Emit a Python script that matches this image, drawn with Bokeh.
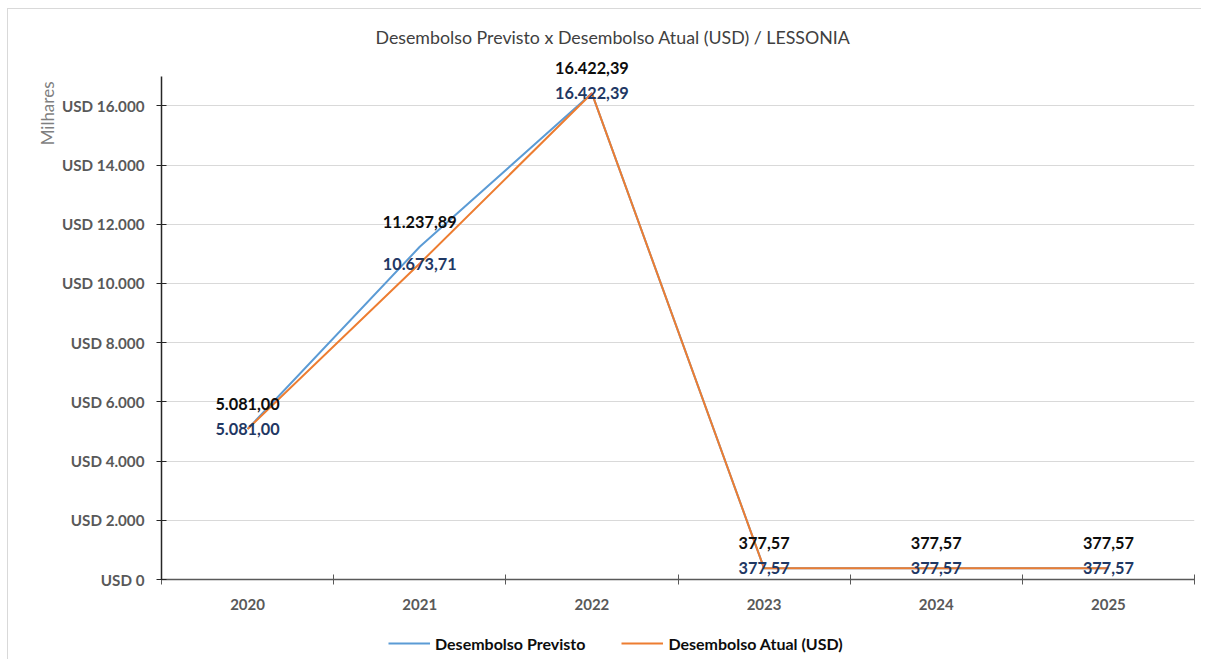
from bokeh.plotting import figure
from bokeh.layouts import column
from bokeh.models import (FixedTicker, ColumnDataSource, LabelSet, Legend,
                          LegendItem, Range1d, Title)
from bokeh.core.properties import value
from bokeh.embed import file_html
from bokeh.resources import INLINE

# ---- data ----
years = ["2020", "2021", "2022", "2023", "2024", "2025"]
previsto = [5081.00, 11237.89, 16422.39, 377.57, 377.57, 377.57]
atual = [5081.00, 10673.71, 16422.39, 377.57, 377.57, 377.57]
y_tick_values = [0, 2000, 4000, 6000, 8000, 10000, 12000, 14000, 16000]
y_tick_labels = ["USD 0", "USD 2.000", "USD 4.000", "USD 6.000", "USD 8.000",
                 "USD 10.000", "USD 12.000", "USD 14.000", "USD 16.000"]
y_axis_max = 17000
title_text = "Desembolso Previsto x Desembolso Atual (USD) / LESSONIA"
unit_text = "Milhares"
series_names = ["Desembolso Previsto", "Desembolso Atual (USD)"]
series_colors = ["#5B9BD5", "#ED7D31"]


def fmt(v):
    s = f"{v:,.2f}"
    return s.replace(",", "X").replace(".", ",").replace("X", ".")


FONT = "Lato"
xs = list(range(len(years)))

src_prev = ColumnDataSource(dict(x=xs, y=previsto, t=[fmt(v) for v in previsto]))
src_atual = ColumnDataSource(dict(x=xs, y=atual, t=[fmt(v) for v in atual]))

p = figure(width=1201, height=621, output_backend="svg", toolbar_location=None,
           x_range=Range1d(-0.5, len(years) - 0.5), y_range=Range1d(0, 17700),
           min_border_left=161, min_border_right=7, min_border_top=55,
           min_border_bottom=42, tools="")
p.outline_line_color = None
p.border_fill_alpha = 0

# title
p.title.text = title_text
p.title.align = "left"
p.title.offset = 214
p.title.text_font = FONT
p.title.text_font_size = "17.8px"
p.title.text_font_style = "normal"
p.title.text_color = "#404040"
p.title.standoff = 15

# lines
r_prev = p.line("x", "y", source=src_prev, line_color=series_colors[0], line_width=2)
r_atual = p.line("x", "y", source=src_atual, line_color=series_colors[1], line_width=2)

# axes
xa = p.xaxis[0]
xa.ticker = FixedTicker(ticks=xs, minor_ticks=[i - 0.5 for i in range(len(years) + 1)])
xa.major_label_overrides = {i: y for i, y in zip(xs, years)}
xa.major_tick_in = 0
xa.major_tick_out = 0
xa.minor_tick_in = 5
xa.minor_tick_out = 5
xa.minor_tick_line_color = "#595959"
xa.axis_line_color = "#595959"
xa.axis_line_width = 1.5
xa.major_label_standoff = 14
xa.major_label_text_font = FONT
xa.major_label_text_font_size = "15px"
xa.major_label_text_font_style = "bold"
xa.major_label_text_color = "#595959"

ya = p.yaxis[0]
ya.ticker = FixedTicker(ticks=y_tick_values, minor_ticks=[])
ya.major_label_overrides = {v: l for v, l in zip(y_tick_values, y_tick_labels)}
ya.bounds = (0, y_axis_max)
ya.major_tick_in = 5
ya.major_tick_out = 5
ya.major_tick_line_color = "#262626"
ya.axis_line_color = "#262626"
ya.axis_line_width = 1.5
ya.minor_tick_line_color = None
ya.major_label_standoff = 12
ya.major_label_text_font = FONT
ya.major_label_text_font_size = "15.2px"
ya.major_label_text_font_style = "bold"
ya.major_label_text_color = "#595959"

p.xgrid.grid_line_color = None
p.ygrid.grid_line_color = "#d9d9d9"
p.ygrid.ticker = FixedTicker(ticks=y_tick_values[1:])

# data labels
lab_prev = LabelSet(x="x", y="y", text="t", source=src_prev, y_offset=25,
                    text_align="center", text_baseline="middle",
                    text_font=value(FONT), text_font_size=value("16.3px"),
                    text_font_style="bold", text_color="#0d0d0d")
lab_atual = LabelSet(x="x", y="y", text="t", source=src_atual,
                     text_align="center", text_baseline="middle",
                     text_font=value(FONT), text_font_size=value("16.3px"),
                     text_font_style="bold", text_color="#1F3864")
p.add_layout(lab_prev)
p.add_layout(lab_atual)

# "Milhares" unit label
unit = Title(text=unit_text, align="right", offset=26, text_font=FONT,
             text_font_size="17px", text_font_style="normal",
             text_color="#7f7f7f", standoff=4)
p.add_layout(unit, "left")

# legend in its own strip below the chart
lg = figure(width=1201, height=38, output_backend="svg", toolbar_location=None,
            x_range=Range1d(0, 1), y_range=Range1d(0, 1), tools="",
            x_axis_location=None, y_axis_location=None,
            min_border_left=0, min_border_right=0, min_border_top=0,
            min_border_bottom=0)
lg.outline_line_color = None
lg.border_fill_alpha = 0
lg.xgrid.visible = False
lg.ygrid.visible = False
lr_prev = lg.line(x=[-10, -9], y=[-10, -10], line_color=series_colors[0], line_width=2)
lr_atual = lg.line(x=[-10, -9], y=[-10, -10], line_color=series_colors[1], line_width=2)
legend = Legend(items=[LegendItem(label=series_names[0], renderers=[lr_prev]),
                       LegendItem(label=series_names[1], renderers=[lr_atual])],
                orientation="horizontal", location=(227, 6),
                label_text_font=FONT, label_text_font_size="16px",
                label_text_font_style="bold", label_text_color="#0d0d0d",
                glyph_width=42, label_standoff=5, spacing=36,
                margin=0, padding=6,
                border_line_color=None, background_fill_alpha=0)
lg.add_layout(legend, "center")

layout = column(p, lg, spacing=0)
layout.styles = {
    "background-image": ("linear-gradient(#d9d9d9, #d9d9d9), "
                         "linear-gradient(#d9d9d9, #d9d9d9)"),
    "background-position": "7px 8px, 7px 8px",
    "background-size": "1194px 1px, 1px 651px",
    "background-repeat": "no-repeat, no-repeat",
}

open("out.html", "w").write(file_html(layout, INLINE))
